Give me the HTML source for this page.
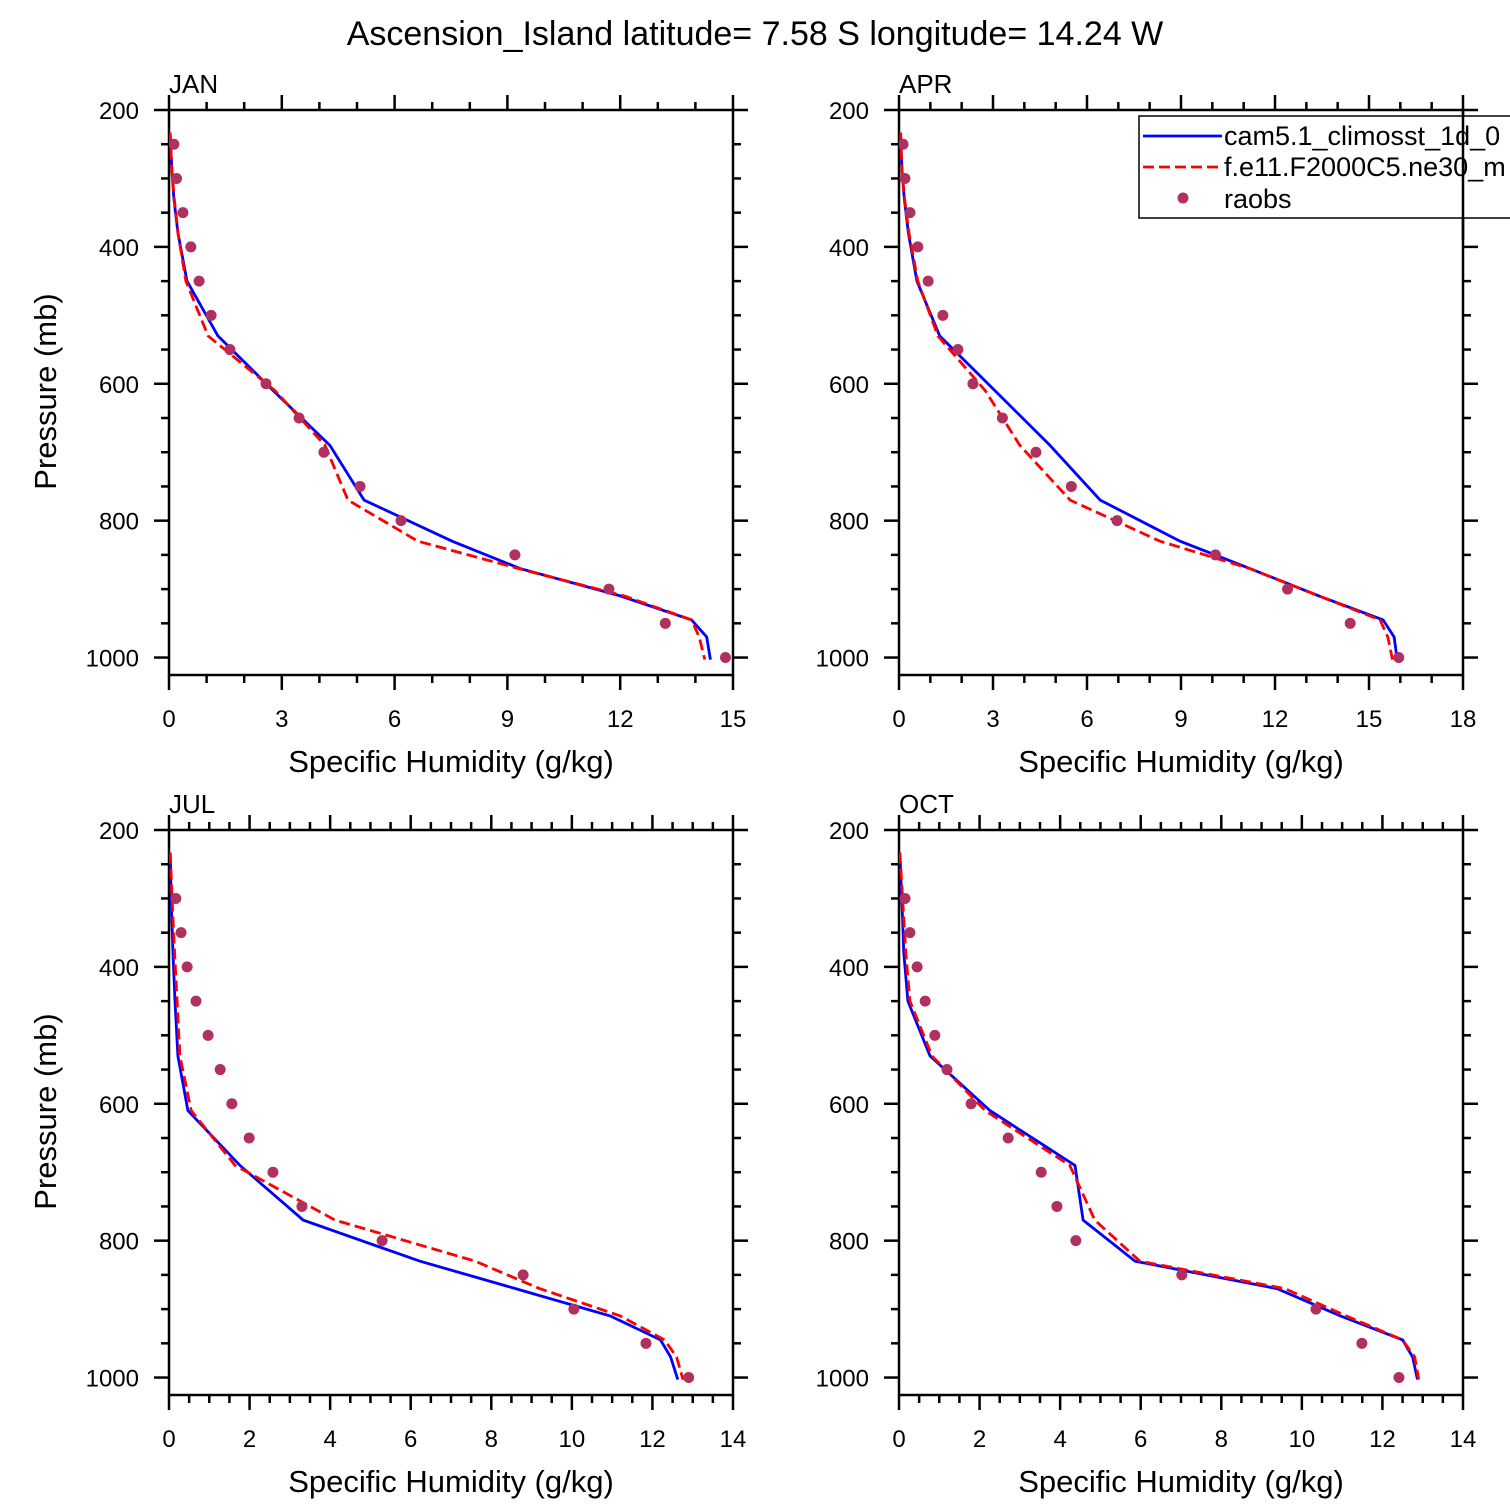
<!DOCTYPE html>
<html><head><meta charset="utf-8"><style>
body{margin:0;background:#fff}
svg{display:block;font-family:"Liberation Sans",Arial,sans-serif}
</style></head><body>
<svg id="chart" width="1510" height="1510" viewBox="0 0 1510 1510">
<text x="755" y="45" text-anchor="middle" font-size="34">Ascension_Island  latitude= 7.58 S longitude= 14.24 W</text>
</svg>
<script>
const obsP=[250,300,350,400,450,500,550,600,650,700,750,800,850,900,950,1000];
const modP=[233,260,290,330,380,450,530,610,690,770,830,870,910,945,970,1003];
const panelNames=["JAN","APR","JUL","OCT"];
const xMaxes=[15,18,14,14];
const xMajor=[3,3,2,2];
const xMinor=[1,1,0.5,0.5];
const obsJAN=[0.13,0.2,0.37,0.58,0.8,1.12,1.62,2.58,3.46,4.12,5.08,6.17,9.2,11.7,13.2,14.8];
const blueJAN=[0.03,0.05,0.08,0.13,0.24,0.48,1.3,2.77,4.28,5.19,7.53,9.34,12,13.9,14.3,14.4];
const redJAN=[0.03,0.05,0.08,0.14,0.24,0.45,1.04,2.82,4.15,4.76,6.62,9.3,12.1,13.9,14.1,14.25];
const obsAPR=[0.13,0.19,0.35,0.6,0.93,1.4,1.88,2.36,3.3,4.37,5.5,6.96,10.1,12.4,14.4,15.95];
const blueAPR=[0.05,0.07,0.1,0.17,0.3,0.57,1.3,3.06,4.82,6.42,8.97,11.2,13.4,15.45,15.8,15.9];
const redAPR=[0.05,0.07,0.1,0.18,0.32,0.6,1.24,2.75,3.86,5.46,8.33,11.2,13.4,15.35,15.6,15.75];
const obsJUL=[null,0.17,0.3,0.45,0.67,0.97,1.27,1.56,1.99,2.58,3.3,5.29,8.79,10.05,11.84,12.9];
const blueJUL=[0.03,0.04,0.05,0.07,0.1,0.15,0.22,0.47,1.76,3.33,6.23,8.6,10.95,12.2,12.45,12.63];
const redJUL=[0.03,0.05,0.07,0.1,0.14,0.2,0.27,0.55,1.64,4.12,7.6,9.2,11.2,12.3,12.6,12.76];
const obsOCT=[null,0.15,0.27,0.45,0.65,0.89,1.19,1.79,2.71,3.53,3.92,4.39,7.02,10.35,11.49,12.41];
const blueOCT=[0.02,0.04,0.06,0.09,0.12,0.22,0.77,2.26,4.37,4.57,5.86,9.38,10.96,12.5,12.75,12.87];
const redOCT=[0.02,0.05,0.08,0.12,0.17,0.27,0.82,2.14,4.24,4.86,5.98,9.58,11.1,12.5,12.8,12.9];
const obsAll=[obsJAN,obsAPR,obsJUL,obsOCT];
const blueAll=[blueJAN,blueAPR,blueJUL,blueOCT];
const redAll=[redJAN,redAPR,redJUL,redOCT];
const yTicks=[200,400,600,800,1000];

const NS="http://www.w3.org/2000/svg";
const svg=document.getElementById('chart');
function mk(tag,attrs,parent){const e=document.createElementNS(NS,tag);for(const k in attrs)e.setAttribute(k,attrs[k]);(parent||svg).appendChild(e);return e;}
const W=564,H=565,pTop=200,pBot=1025.5;
const origins=[[169,110],[899,110],[169,830],[899,830]];
for(let i=0;i<4;i++){
  const [x0,y0]=origins[i];
  const xMax=xMaxes[i];
  const sx=v=>x0+v/xMax*W;
  const sy=p=>y0+(p-pTop)/(pBot-pTop)*H;
  const g=mk('g',{});
  
  
  const lab=mk('text',{x:x0,y:y0-17,'font-size':26},g);lab.textContent=panelNames[i];
  
  
  const clip=mk('clipPath',{id:'c'+i},g);mk('rect',{x:x0,y:y0,width:W,height:H},clip);
  const ax=mk('g',{stroke:'#000','stroke-width':2.5},g);
  
  
  for(let v=0;v<=xMax+1e-9;v+=xMinor[i]){
    const major=Math.abs(v/xMajor[i]-Math.round(v/xMajor[i]))<1e-6;
    const L=major?15:8,x=sx(v);
    mk('line',{x1:x,y1:y0,x2:x,y2:y0-L},ax);
    mk('line',{x1:x,y1:y0+H,x2:x,y2:y0+H+L},ax);
    if(major){const t=mk('text',{x:x,y:y0+H+52,'text-anchor':'middle','font-size':24,stroke:'none'},g);t.textContent=Math.round(v);
      
      }
  }
  for(let p=200;p<=1000;p+=50){
    const major=p%200===0,L=major?15:8,y=sy(p);
    mk('line',{x1:x0,y1:y,x2:x0-L,y2:y},ax);
    mk('line',{x1:x0+W,y1:y,x2:x0+W+L,y2:y},ax);
  }
  yTicks.forEach(p=>{const t=mk('text',{x:x0-30,y:sy(p)+9,'text-anchor':'end','font-size':24},g);t.textContent=p;
    
    });
  mk('rect',{x:x0,y:y0,width:W,height:H,fill:'none',stroke:'#000','stroke-width':2.5},ax);
  const xt=mk('text',{x:x0+W/2,y:y0+H+97,'text-anchor':'middle','font-size':31},g);xt.textContent='Specific Humidity (g/kg)';
  
  
  if(i%2===0){const yt=mk('text',{x:0,y:0,'text-anchor':'middle','font-size':31,transform:`translate(56,${y0+H/2-1}) rotate(-90)`},g);yt.textContent='Pressure (mb)';
    
    }
  const dg=mk('g',{'clip-path':`url(#c${i})`},g);
  const mkPts=arr=>arr.map((v,k)=>sx(v).toFixed(1)+','+sy(modP[k]).toFixed(1)).join(' ');
  const bl=mk('polyline',{points:mkPts(blueAll[i]),fill:'none',stroke:'#0000ff','stroke-width':2.8},dg);
  
  
  const rl=mk('polyline',{points:mkPts(redAll[i]),fill:'none',stroke:'#ff0000','stroke-width':2.8,'stroke-dasharray':'11,5'},dg);
  
  
  obsAll[i].forEach((v,k)=>{if(v===null)return;
    const c=mk('circle',{cx:sx(v),cy:sy(obsP[k]),r:5.5,fill:'#b03060'},dg);
    
    });
}
const lg=mk('g',{});


mk('rect',{x:1139,y:116,width:380,height:102,fill:'#fff',stroke:'#000','stroke-width':1.5},lg);
mk('line',{x1:1143,y1:136,x2:1222,y2:136,stroke:'#0000ff','stroke-width':2.8},lg);
mk('line',{x1:1143,y1:167,x2:1222,y2:167,stroke:'#ff0000','stroke-width':2.8,'stroke-dasharray':'11,5'},lg);
mk('circle',{cx:1183,cy:198,r:5.5,fill:'#b03060'},lg);
[['cam5.1_climosst_1d_0',145],['f.e11.F2000C5.ne30_m',176],['raobs',208]].forEach(([s,y])=>{
  const t=mk('text',{x:1224,y:y,'font-size':27},lg);t.textContent=s;
  
  });
mk('line',{x1:1463,y1:110,x2:1463,y2:240,stroke:'#000','stroke-width':2.5});
</script>
</body></html>
